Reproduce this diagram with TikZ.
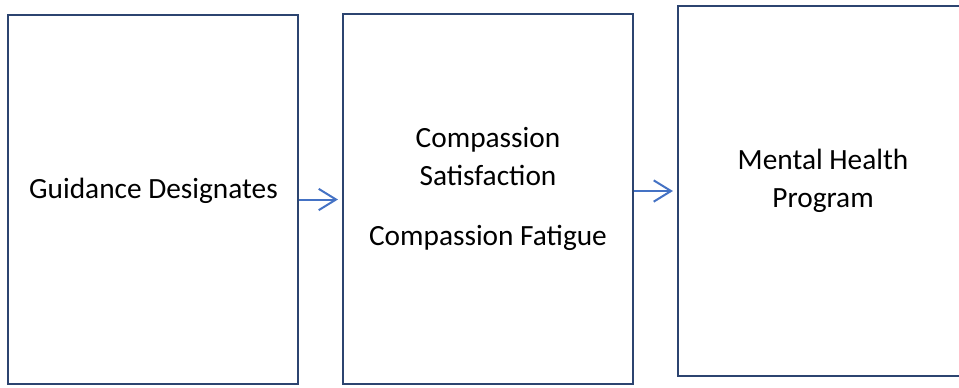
\documentclass[tikz,border=0pt]{standalone}
\usepackage{fontspec}
\setmainfont{Carlito}
\usetikzlibrary{arrows.meta,positioning}
\definecolor{boxnavy}{RGB}{44,68,112}
\definecolor{arrowblue}{RGB}{68,114,196}
\tikzset{
  stagebox/.style={draw=boxnavy, line width=1.6pt, minimum width=217.5pt,
                   minimum height=277pt, inner sep=0pt},
  stagetext/.style={align=center, font=\fontsize{22}{28.5}\selectfont, inner sep=0pt},
  flow/.style={draw=arrowblue, line width=1.5pt,
               -{Straight Barb[length=13pt,width=16pt,line width=1.5pt]}, shorten >=3pt}
}
\begin{document}
\begin{tikzpicture}[x=0.75pt,y=-0.75pt]
\clip (0,0) rectangle (959,387);

\node[stagebox] (guide) at (153,199.5) {};
\node[stagebox] (compassion) at (488,199) {};
\node[stagebox] (program) at (823,191) {};

% base anchor sits on the last line of a multi-line node
\node[stagetext, anchor=base] (guideText) at (153.5,198) {Guidance Designates};
\node[stagetext, anchor=base] (compassionText) at (488,245)
    {Compassion\\Satisfaction\\[16.5pt]Compassion Fatigue};
\node[stagetext, anchor=base] (programText) at (823,207) {Mental Health\\Program};

\draw[flow] (guide.east) -- (guide.east -| compassion.west);
\draw[flow] (compassion.east |- program.west) -- (program.west);
\end{tikzpicture}
\end{document}
